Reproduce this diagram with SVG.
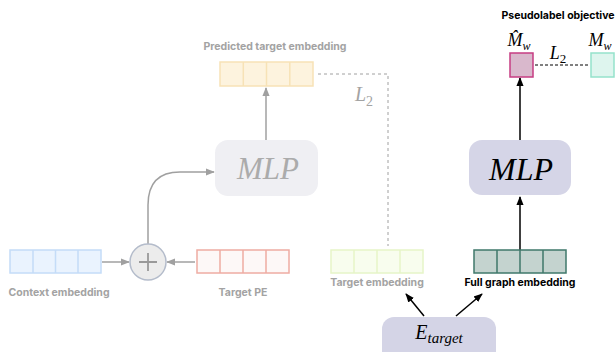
<svg xmlns="http://www.w3.org/2000/svg" width="616" height="352" viewBox="0 0 616 352">
<defs>
<style>
.lbl{font-family:Inter,"Liberation Sans",sans-serif;font-weight:bold;font-size:10.5px;text-anchor:middle}
.gl{fill:#a3a3a3}
.bl{fill:#000}
.math{font-family:"Liberation Serif","DejaVu Serif",serif;font-style:italic;text-anchor:middle}
.gline{stroke:#a0a0a0;stroke-width:1.5;fill:none}
.kline{stroke:#000;stroke-width:1.5;fill:none}
</style>
<marker id="ag" viewBox="0 0 10 10" refX="9" refY="5" markerWidth="6" markerHeight="6" orient="auto"><path d="M0,1 L10,5 L0,9 Z" fill="#a0a0a0"/></marker>
<marker id="ak" viewBox="0 0 10 10" refX="9" refY="5" markerWidth="6" markerHeight="6" orient="auto"><path d="M0,1 L10,5 L0,9 Z" fill="#000"/></marker>
</defs>
<rect width="616" height="352" fill="#fff"/>

<g id="connectors">
<line class="gline" x1="102" y1="262" x2="129" y2="262" marker-end="url(#ag)"/>
<line class="gline" x1="195" y1="262" x2="167" y2="262" marker-end="url(#ag)"/>
<path class="gline" d="M148,244 L148,205 Q148,172 180,172 L214,172" marker-end="url(#ag)"/>
<line class="gline" x1="266" y1="140" x2="266" y2="88" marker-end="url(#ag)"/>
<path d="M318,74 L388,74 L388,246" stroke="#a0a0a0" stroke-width="1" stroke-dasharray="3,3" fill="none"/>
<line class="kline" x1="424" y1="316" x2="406" y2="294" marker-end="url(#ak)"/>
<line class="kline" x1="456" y1="316" x2="482" y2="294" marker-end="url(#ak)"/>
<line class="kline" x1="520" y1="250" x2="520" y2="197" marker-end="url(#ak)"/>
<line class="kline" x1="520" y1="140" x2="520" y2="78" marker-end="url(#ak)"/>
<line x1="535" y1="65" x2="590" y2="65" stroke="#000" stroke-width="1" stroke-dasharray="3,2"/>
</g>

<g id="context-embedding">
<rect x="10" y="250" width="91" height="23" fill="#eaf3fe" stroke="#c4dcf8" stroke-width="1.5"/>
<path d="M33,250 V273 M55.5,250 V273 M78,250 V273" stroke="#c4dcf8" stroke-width="1.5"/>
<text class="lbl gl" x="59" y="296">Context embedding</text>
</g>

<g id="plus">
<circle cx="148" cy="262" r="18" fill="#ececec" stroke="#b4bccb" stroke-width="1.5"/>
<path d="M139,262 H157 M148,253 V271" stroke="#999" stroke-width="1.8"/>
</g>

<g id="target-pe">
<rect x="197" y="250" width="92" height="23" fill="#fdf8f7" stroke="#eeaca3" stroke-width="1.5"/>
<path d="M220,250 V273 M243,250 V273 M266,250 V273" stroke="#eeaca3" stroke-width="1.5"/>
<text class="lbl gl" x="243" y="296">Target PE</text>
</g>

<g id="mlp-left">
<rect x="215" y="140" width="103" height="56" rx="13" fill="#efeff3"/>
<text class="math" x="268" y="179" font-size="31" fill="#ababab">MLP</text>
</g>

<g id="predicted-embedding">
<text class="lbl gl" x="275" y="50">Predicted target embedding</text>
<rect x="220" y="62" width="93" height="24" fill="#fdf3de" stroke="#f7e2b6" stroke-width="1.5"/>
<path d="M243.3,62 V86 M266.5,62 V86 M289.8,62 V86" stroke="#f7e2b6" stroke-width="1.5"/>
<text class="math" x="364" y="101" font-size="20" fill="#a3a3a3">L<tspan font-style="normal" font-size="14" dy="5">2</tspan></text>
</g>

<g id="target-embedding">
<rect x="331" y="250" width="92" height="23" fill="#f8fdee" stroke="#e6f5c8" stroke-width="1.5"/>
<path d="M354,250 V273 M377,250 V273 M400,250 V273" stroke="#e6f5c8" stroke-width="1.5"/>
<text class="lbl gl" x="377" y="286">Target embedding</text>
</g>

<g id="full-graph-embedding">
<rect x="474" y="250" width="92" height="23" fill="#c4d3cf" stroke="#3f786b" stroke-width="1.5"/>
<path d="M497,250 V273 M520,250 V273 M543,250 V273" stroke="#3f786b" stroke-width="1.5"/>
<text class="lbl bl" x="520" y="286">Full graph embedding</text>
</g>

<g id="e-target">
<rect x="382" y="317" width="114" height="50" rx="12" fill="#d4d4e6"/>
<text class="math" x="439" y="339" font-size="20" fill="#000">E<tspan font-size="15" dy="4">target</tspan></text>
</g>

<g id="mlp-right">
<rect x="469" y="140" width="102" height="55" rx="13" fill="#d5d5e7"/>
<text class="math" x="521" y="180" font-size="32" fill="#000">MLP</text>
</g>

<g id="pseudolabel">
<text class="lbl bl" x="558" y="19">Pseudolabel objective</text>
<rect x="510" y="53" width="23" height="24" fill="#d9b8cc" stroke="#c63c82" stroke-width="1.5"/>
<rect x="591" y="53" width="23" height="24" fill="#def5ee" stroke="#95e2cb" stroke-width="1.5"/>
<text class="math" x="519" y="46" font-size="18" fill="#000">M̂<tspan font-size="12" dy="4">w</tspan></text>
<text class="math" x="600" y="46" font-size="18" fill="#000">M<tspan font-size="12" dy="4">w</tspan></text>
<text class="math" x="558" y="59" font-size="18" fill="#000">L<tspan font-style="normal" font-size="13" dy="4">2</tspan></text>
</g>
</svg>
